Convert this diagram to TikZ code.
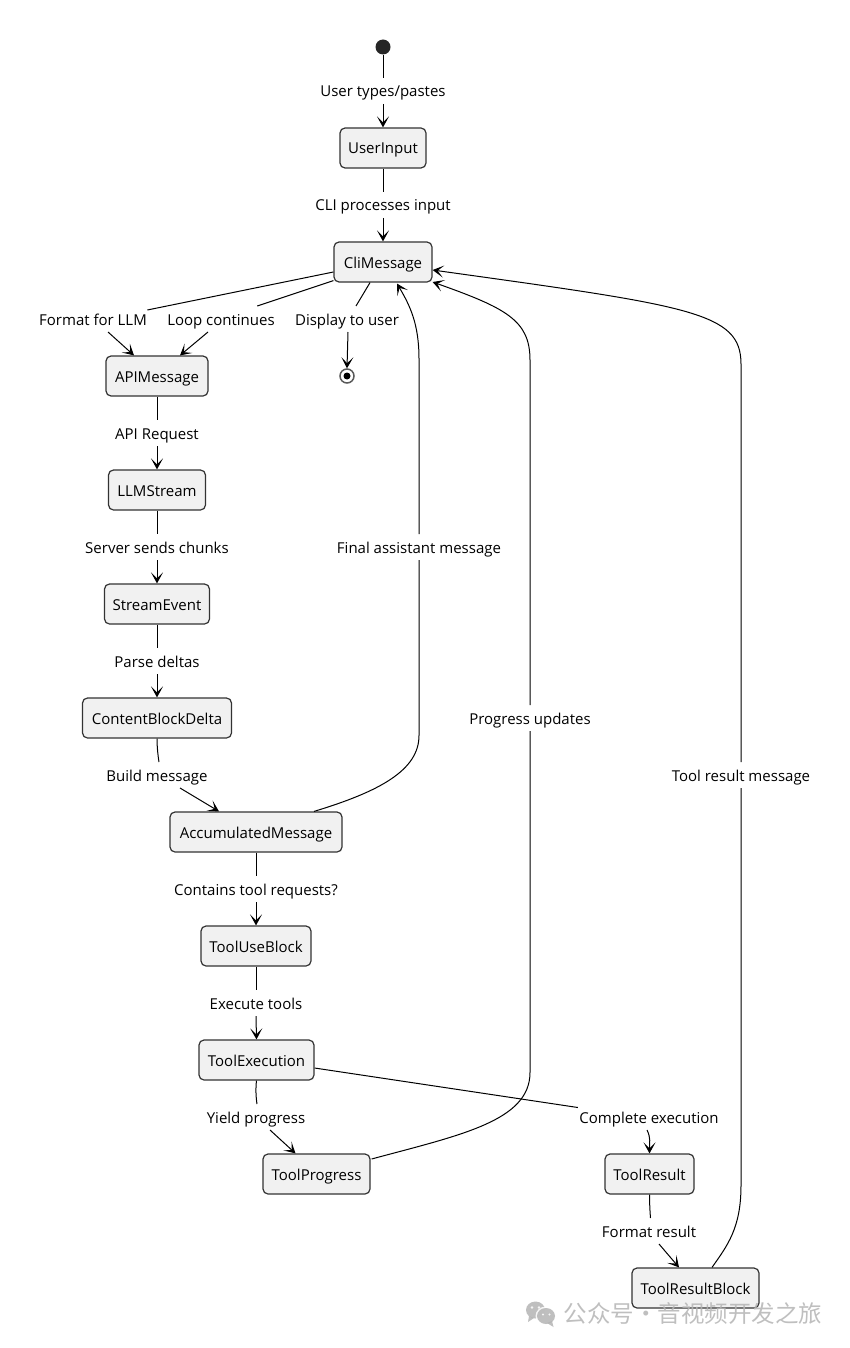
\documentclass[tikz,border=0pt]{standalone}
\usepackage{fontspec}
\setmainfont{Open Sans}
\newfontfamily\cjkfont{Noto Sans CJK SC}
\usepackage{xcolor}
\usetikzlibrary{calc,arrows.meta}
\definecolor{boxfill}{HTML}{F1F1F1}
\definecolor{boxline}{HTML}{333333}
\definecolor{markgray}{HTML}{B4B4B4}
\tikzset{
  msgbox/.style={draw=boxline,fill=boxfill,rounded corners=5pt,line width=1.2pt,
    minimum height=40pt,inner sep=0pt,text height=14pt,text depth=2pt,font=\fontsize{15}{17}\selectfont},
  edgelabel/.style={inner sep=0pt,minimum height=25pt,text height=14pt,text depth=2pt,font=\fontsize{15}{17}\selectfont},
}
\newcommand{\drawStraight}[3]{% from, label, to
  \draw (#1.south) -- (#2.north);
  \draw[->] (#2.south) -- (#3.north);
}
\begin{document}
\begin{tikzpicture}[x=1pt,y=-1pt,line width=1pt,>={Stealth[length=11pt,width=12pt,inset=6pt]}]
\useasboundingbox (0,0) rectangle (850,1348);

% Start and end points
\node[circle,fill=black!85,minimum size=15pt,inner sep=0pt] (Start) at (383,47) {};
\node[circle,draw=black!65,fill=white,line width=1.5pt,minimum size=14pt,inner sep=0pt] (End) at (347,376) {};
\fill[black] (End) circle (3.5pt);

% States
\node[msgbox,minimum width=86pt] (UserInput) at (383,148) {UserInput};
\node[msgbox,minimum width=98pt] (CliMessage) at (383,262) {CliMessage};
\node[msgbox,minimum width=102pt] (APIMessage) at (157,376) {APIMessage};
\node[msgbox,minimum width=97pt] (LLMStream) at (157,490) {LLMStream};
\node[msgbox,minimum width=105pt] (StreamEvent) at (157,604) {StreamEvent};
\node[msgbox,minimum width=149pt] (ContentBlockDelta) at (157,718) {ContentBlockDelta};
\node[msgbox,minimum width=172pt] (AccumulatedMessage) at (256,832) {AccumulatedMessage};
\node[msgbox,minimum width=110pt] (ToolUseBlock) at (256,946) {ToolUseBlock};
\node[msgbox,minimum width=115pt] (ToolExecution) at (256.5,1060) {ToolExecution};
\node[msgbox,minimum width=107pt] (ToolProgress) at (316.5,1174) {ToolProgress};
\node[msgbox,minimum width=89pt] (ToolResult) at (649.5,1174) {ToolResult};
\node[msgbox,minimum width=127pt] (ToolResultBlock) at (695.5,1288) {ToolResultBlock};

% Labels
\node[edgelabel] (lblTypes) at (383,91) {User types/pastes};
\node[edgelabel] (lblCli) at (383,205) {CLI processes input};
\node[edgelabel] (lblFormat) at (93,319) {Format for LLM};
\node[edgelabel] (lblLoop) at (221,319) {Loop continues};
\node[edgelabel] (lblDisplay) at (347,319) {Display to user};
\node[edgelabel] (lblRequest) at (157,433) {API Request};
\node[edgelabel] (lblChunks) at (157,547) {Server sends chunks};
\node[edgelabel] (lblDeltas) at (157,661) {Parse deltas};
\node[edgelabel] (lblBuild) at (157,775) {Build message};
\node[edgelabel] (lblFinal) at (419,547) {Final assistant message};
\node[edgelabel] (lblUpdates) at (530,718) {Progress updates};
\node[edgelabel] (lblToolMsg) at (741,775) {Tool result message};
\node[edgelabel] (lblContains) at (256,889) {Contains tool requests?};
\node[edgelabel] (lblExecute) at (256,1003) {Execute tools};
\node[edgelabel] (lblYield) at (256,1117) {Yield progress};
\node[edgelabel] (lblComplete) at (649,1117) {Complete execution};
\node[edgelabel] (lblResult) at (649,1231) {Format result};

% Straight runs
\draw (Start.south) -- (lblTypes.north);
\draw[->] (lblTypes.south) -- (UserInput.north);
\drawStraight{UserInput}{lblCli}{CliMessage}
\drawStraight{APIMessage}{lblRequest}{LLMStream}
\drawStraight{LLMStream}{lblChunks}{StreamEvent}
\drawStraight{StreamEvent}{lblDeltas}{ContentBlockDelta}
\drawStraight{AccumulatedMessage}{lblContains}{ToolUseBlock}
\drawStraight{ToolUseBlock}{lblExecute}{ToolExecution}

% Out of CliMessage
\draw ($(CliMessage.west)+(0,10)$) -- ($(lblFormat.north east)+(0,4)$);
\draw[->] ($(lblFormat.south)+(15,0)$) -- ($(APIMessage.north)+(-23,0)$);
\draw ($(CliMessage.south west)+(0,-2)$) -- ($(lblLoop.north east)+(-18,0)$);
\draw[->] ($(lblLoop.south)+(-13,0)$) -- ($(APIMessage.north)+(23,0)$);
\draw ($(CliMessage.south)+(-13,0)$) -- ($(lblDisplay.north)+(9,0)$);
\draw[->] ($(lblDisplay.south)+(1,0)$) -- (End.north);

% Short bends
\draw (ContentBlockDelta.south) .. controls ($(ContentBlockDelta.south)+(0,8)$) and ($(lblBuild.north)+(1,-6)$) .. ($(lblBuild.north)+(2,0)$);
\draw[->] ($(lblBuild.south)+(23,0)$) -- ($(AccumulatedMessage.north)+(-37,0)$);
\draw (ToolExecution.south) .. controls ($(ToolExecution.south)+(-1,8)$) and ($(lblYield.north)+(0,-6)$) .. ($(lblYield.north)+(1,0)$);
\draw[->] ($(lblYield.south)+(14,0)$) -- ($(ToolProgress.north)+(-21,0)$);
\draw ($(ToolExecution.east)+(0,8)$) -- ($(lblComplete.north west)+(-1,3.5)$);
\draw[->] ($(lblComplete.south)+(-2,0)$) .. controls ($(lblComplete.south)+(2,8)$) and ($(ToolResult.north)+(0,-10)$) .. (ToolResult.north);
\draw (ToolResult.south) .. controls ($(ToolResult.south)+(0,8)$) and ($(lblResult.north)+(1,-6)$) .. ($(lblResult.north)+(1.5,0)$);
\draw[->] ($(lblResult.south)+(10,0)$) -- ($(ToolResultBlock.north)+(-16.5,0)$);

% Long returns
\draw ($(AccumulatedMessage.north)+(58,0)$) .. controls ($(AccumulatedMessage.north)+(124,-20)$) and ($(lblFinal.south)+(0,210)$) .. ($(lblFinal.south)+(0,175.5)$) -- (lblFinal.south);
\draw[->] (lblFinal.north) -- ($(lblFinal.north)+(0,-175)$) .. controls ($(lblFinal.north)+(0,-210)$) and ($(CliMessage.south)+(27,23)$) .. ($(CliMessage.south)+(14,1)$);
\draw ($(ToolProgress.east)+(1,-15)$) .. controls ($(ToolProgress.east)+(90,-39)$) and ($(lblUpdates.south)+(0,390)$) .. ($(lblUpdates.south)+(0,341.5)$) -- (lblUpdates.south);
\draw[->] (lblUpdates.north) -- ($(lblUpdates.north)+(0,-345)$) .. controls ($(lblUpdates.north)+(0,-385)$) and ($(CliMessage.east)+(73,46)$) .. ($(CliMessage.east)+(0,20)$);
\draw ($(ToolResultBlock.north)+(16.5,0)$) .. controls ($(ToolResultBlock.north)+(32,-22)$) and ($(lblToolMsg.south)+(0,440)$) .. ($(lblToolMsg.south)+(0,397.5)$) -- (lblToolMsg.south);
\draw[->] (lblToolMsg.north) -- ($(lblToolMsg.north)+(0,-398)$) .. controls ($(lblToolMsg.north)+(0,-450)$) and ($(CliMessage.east)+(258,44)$) .. ($(CliMessage.east)+(0,8)$);

% Watermark
\begin{scope}[opacity=.85]
\fill[markgray] (535.5,1310) ellipse (9.5pt and 8.5pt);
\fill[markgray] (529,1316) -- (528,1322) -- (534,1318) -- cycle;
\fill[white] (546,1316) ellipse (10.5pt and 9.5pt);
\fill[markgray] (546,1316) ellipse (9pt and 8pt);
\fill[markgray] (552,1321) -- (553.5,1327) -- (547,1323) -- cycle;
\fill[white] (532,1307.5) circle (1.3pt) (539,1307.5) circle (1.3pt) (543,1314.5) circle (1.1pt) (549.5,1314.5) circle (1.1pt);
\node[text=markgray,inner sep=0pt,anchor=west,font=\fontsize{23.5}{28}\cjkfont\selectfont] (Watermark) at (563,1314) {公众号·音视频开发之旅};
\end{scope}
\end{tikzpicture}
\end{document}
